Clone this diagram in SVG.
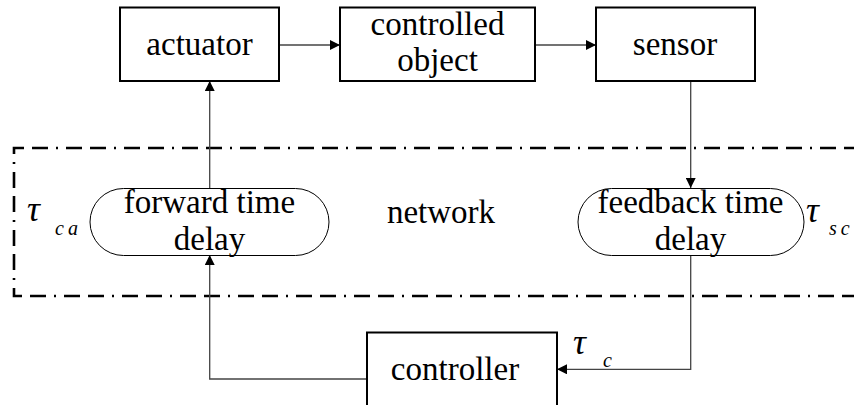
<svg xmlns="http://www.w3.org/2000/svg" width="854" height="405" viewBox="0 0 854 405">
<defs>
<marker id="arr" viewBox="0 0 10 10" refX="10" refY="5" markerWidth="10" markerHeight="10" markerUnits="userSpaceOnUse" orient="auto">
<path d="M0,0 L10,5 L0,10 Z" fill="#000"/>
</marker>
<style>
.box{fill:#fff;stroke:#000;stroke-width:2}
.pill{fill:#fff;stroke:#000;stroke-width:1}
.t{font-family:"Liberation Serif","Times New Roman",serif;font-size:33px;fill:#000;text-anchor:middle}
.tau{font-family:"Liberation Serif","Times New Roman",serif;font-style:italic;font-size:36px;fill:#000}
.sub{font-family:"Liberation Serif","Times New Roman",serif;font-style:italic;font-size:20px;fill:#000;letter-spacing:4px}
.c{fill:none;stroke:#444;stroke-width:1.3}
.net{fill:none;stroke:#000;stroke-width:2.6;stroke-dasharray:16 8 16 8 2 8}
</style>
</defs>
<g id="network-boundary">
<path class="net" d="M860,148 L14,148 L14,296 L860,296"/>
<text class="t" x="441" y="223">network</text>
</g>
<g id="connectors">
<line class="c" x1="279" y1="45" x2="340" y2="45" marker-end="url(#arr)"/>
<line class="c" x1="535" y1="45" x2="596" y2="45" marker-end="url(#arr)"/>
<line class="c" x1="209.7" y1="188" x2="209.7" y2="81" marker-end="url(#arr)"/>
<line class="c" x1="690.7" y1="81" x2="690.7" y2="188" marker-end="url(#arr)"/>
<polyline class="c" points="690.7,255 690.7,369.3 557,369.3" marker-end="url(#arr)"/>
<polyline class="c" points="367,379 209.7,379 209.7,255" marker-end="url(#arr)"/>
</g>
<g id="actuator">
<rect class="box" x="120" y="7.5" width="159" height="73.5"/>
<text class="t" x="199.5" y="55">actuator</text>
</g>
<g id="controlled-object">
<rect class="box" x="340" y="7.5" width="195" height="73.5"/>
<text class="t" x="437.5" y="35">controlled</text>
<text class="t" x="437.5" y="71">object</text>
</g>
<g id="sensor">
<rect class="box" x="596" y="7.5" width="159" height="73.5"/>
<text class="t" x="675" y="55">sensor</text>
</g>
<g id="forward-delay">
<rect class="pill" x="90" y="188.5" width="239" height="67" rx="33.5" ry="33.5"/>
<text class="t" x="209.5" y="213">forward time</text>
<text class="t" x="209.5" y="250">delay</text>
<text class="tau" x="27" y="221">τ</text>
<text class="sub" x="55" y="235">ca</text>
</g>
<g id="feedback-delay">
<rect class="pill" x="578" y="188.5" width="226" height="67" rx="33.5" ry="33.5"/>
<text class="t" x="690.5" y="213">feedback time</text>
<text class="t" x="690.5" y="250">delay</text>
<text class="tau" x="806" y="222">τ</text>
<text class="sub" x="829" y="235">sc</text>
</g>
<g id="controller">
<rect class="box" x="367" y="332.5" width="190" height="90"/>
<text class="t" x="455" y="380">controller</text>
<text class="tau" x="573" y="354">τ</text>
<text class="sub" x="603" y="367">c</text>
</g>
</svg>
